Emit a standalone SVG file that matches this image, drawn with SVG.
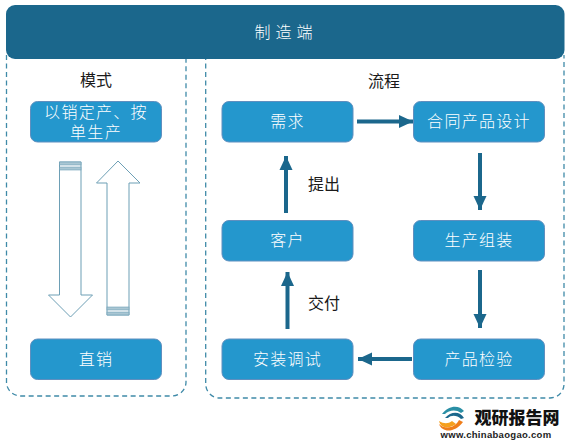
<svg xmlns="http://www.w3.org/2000/svg" width="574" height="442" viewBox="0 0 574 442">
<style>
text{font-family:"Noto Sans CJK SC","Liberation Sans",sans-serif;font-size:16px;text-anchor:middle}
.box{fill:#2497cd;stroke:#5f8fbf;stroke-width:1}
.w{fill:#fff;font-weight:300}
.k{fill:#1a1a1a}
.dash{fill:none;stroke:#3f8aa8;stroke-width:1.3;stroke-dasharray:5 3.5}
.hollow{fill:#fff;stroke:#6d9fb5;stroke-width:1}
.stripe{fill:#a9c6d3;stroke:#6d9fb5;stroke-width:.6}
.conn{stroke:#1b678c;stroke-width:4;fill:none;marker-end:url(#ah)}
</style>
<defs><marker id="ah" markerUnits="userSpaceOnUse" markerWidth="14" markerHeight="14" refX="14" refY="7" orient="auto"><path d="M0 0.500L14 7L0 13.500Z" fill="#1b678c"/></marker></defs>
<rect width="574" height="442" fill="#fff"/>
<path class="dash" d="M6.500 55V382a14 14 0 0 0 14 14H172a14 14 0 0 0 14-14V55"/>
<path class="dash" d="M205.700 55V384a14 14 0 0 0 14 14H550a14 14 0 0 0 14-14V55"/>
<g id="top"><rect x="6" y="5" width="558.500" height="54" rx="9" fill="#1b678c"/><text class="w" x="286" y="38" letter-spacing="5">制造端</text></g>
<text class="k" x="96" y="86">模式</text>
<text class="k" x="384" y="87">流程</text>
<g id="n-mode"><rect class="box" x="30.500" y="101.500" width="131" height="40.500" rx="7"/><text class="w" x="96" y="118"><tspan letter-spacing="1.300">以销定产、按</tspan><tspan x="96" dy="20" letter-spacing="1.300">单生产</tspan></text></g>
<g id="n-direct"><rect class="box" x="30.500" y="339" width="131" height="40.500" rx="7"/><text class="w" x="96" y="365" letter-spacing="1.300">直销</text></g>
<g id="arrow-down"><path class="hollow" d="M59.500 162H81V295H92.500L70.500 317L48.500 295H59.500Z"/><rect class="stripe" x="59.500" y="162" width="21.500" height="3"/><rect class="stripe" x="59.500" y="167" width="21.500" height="3"/></g>
<g id="arrow-up"><path class="hollow" d="M107 315H129V183H140L118 161L96.500 183H107Z"/><rect class="stripe" x="107" y="307" width="22" height="3"/><rect class="stripe" x="107" y="312" width="22" height="3"/></g>
<g id="n-need"><rect class="box" x="222" y="101.500" width="131" height="40.500" rx="7"/><text class="w" x="287.500" y="127" letter-spacing="1.300">需求</text></g>
<g id="n-contract"><rect class="box" x="413.500" y="101.500" width="131" height="40.500" rx="7"/><text class="w" x="479" y="127" letter-spacing="1.300">合同产品设计</text></g>
<g id="n-customer"><rect class="box" x="222" y="220.500" width="131" height="40.500" rx="7"/><text class="w" x="287.500" y="246" letter-spacing="1.300">客户</text></g>
<g id="n-make"><rect class="box" x="413.500" y="220.500" width="131" height="40.500" rx="7"/><text class="w" x="479" y="246" letter-spacing="1.300">生产组装</text></g>
<g id="n-install"><rect class="box" x="222" y="339" width="131" height="40.500" rx="7"/><text class="w" x="287.500" y="365" letter-spacing="1.300">安装调试</text></g>
<g id="n-test"><rect class="box" x="413.500" y="339" width="131" height="40.500" rx="7"/><text class="w" x="479" y="365" letter-spacing="1.300">产品检验</text></g>
<g id="connectors">
<path class="conn" d="M357 121.500H413"/>
<path class="conn" d="M480 153V210"/>
<path class="conn" d="M480 270V328"/>
<path class="conn" d="M412 359H358"/>
<path class="conn" d="M287.500 329V272"/>
<path class="conn" d="M286 213V156"/>
</g>
<text class="k" x="324" y="190">提出</text>
<text class="k" x="324" y="309">交付</text>
<g id="watermark">
<path d="M442 414C449 405 459 405 464 411L461 413C456 409 449 410 445 414Z" fill="#2a8fa5"/>
<path d="M445 418C451 411 460 411 464 418L461 419C457 415 451 415 448 418Z" fill="#1b678c"/>
<path d="M439 421C441 429 449 429 456 424L452 421C448 424 444 424 439 421Z" fill="#f5a01e"/>
<path d="M439 424C442 433 455 433 463 422L459 420C455 428 445 430 439 424Z" fill="#ef7d1a"/>
<text x="517" y="424" style="font-size:17px;font-weight:900" fill="#111">观研报告网</text>
<text x="496" y="438" style="font-family:'Liberation Sans',sans-serif;font-size:9.500px;font-weight:700" fill="#222" letter-spacing=".3">www.chinabaogao.com</text>
</g>
</svg>
